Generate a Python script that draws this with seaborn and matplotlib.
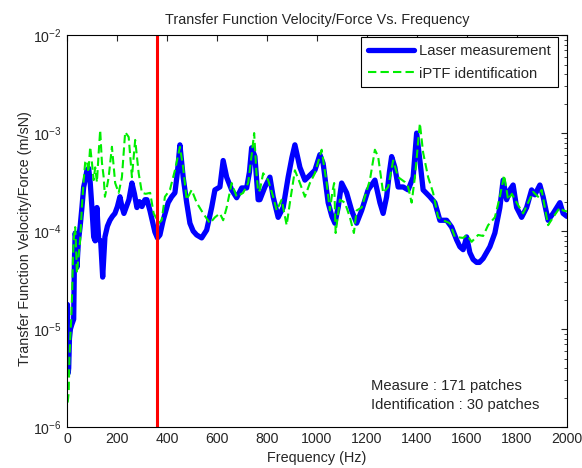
# Transfer function velocity/force - laser vs iPTF
import numpy as np
import pandas as pd
import matplotlib
matplotlib.use("Agg")
import matplotlib.pyplot as plt
import seaborn as sns

# Dados (frequencia em Hz, expoente log10 da FT em m/sN)
freq_laser = [2, 5, 7, 10, 14, 20, 27, 30, 33, 37, 40, 46, 53, 60, 67, 73, 80, 87, 93, 100,
              107, 113, 120, 127, 135, 143, 152, 162, 172, 182, 192, 202, 212, 220, 228, 238,
              248, 260, 270, 280, 290, 300, 312, 320, 332, 342, 352, 362, 372, 385, 395, 405,
              419, 432, 442, 452, 465, 479, 492, 505, 519, 539, 559, 579, 592, 612, 625, 639,
              659, 679, 699, 719, 730, 739, 752, 765, 772, 792, 812, 825, 845, 865, 885, 900,
              912, 932, 952, 972, 992, 1012, 1025, 1045, 1060, 1072, 1085, 1099, 1119, 1139,
              1159, 1179, 1205, 1232, 1252, 1265, 1279, 1290, 1299, 1312, 1325, 1345, 1365,
              1385, 1393, 1399, 1412, 1425, 1452, 1472, 1492, 1519, 1539, 1559, 1572, 1585,
              1599, 1612, 1625, 1639, 1650, 1665, 1692, 1712, 1732, 1745, 1759, 1772, 1785,
              1799, 1819, 1839, 1859, 1872, 1892, 1905, 1925, 1945, 1972, 1985, 2000]
exp_laser = [-4.75, -5.45, -5.4, -5.1, -5.0, -4.95, -4.9, -4.3, -4.02, -4.1, -4.37, -4.1, -3.95,
             -3.76, -3.55, -3.48, -3.38, -3.36, -3.5, -3.76, -4.06, -4.1, -3.76, -4.09, -4.1,
             -4.47, -4.06, -3.95, -3.89, -3.85, -3.82, -3.75, -3.65, -3.75, -3.82, -3.75, -3.68,
             -3.51, -3.62, -3.76, -3.7, -3.75, -3.68, -3.68, -3.79, -3.9, -4.01, -4.07, -4.04,
             -3.89, -3.8, -3.71, -3.65, -3.61, -3.4, -3.12, -3.45, -3.71, -3.92, -4.0, -4.04,
             -4.07, -3.99, -3.76, -3.58, -3.55, -3.28, -3.45, -3.58, -3.66, -3.56, -3.56, -3.4,
             -3.15, -3.24, -3.68, -3.68, -3.55, -3.45, -3.65, -3.86, -3.76, -3.45, -3.25, -3.12,
             -3.35, -3.48, -3.43, -3.38, -3.22, -3.31, -3.71, -3.85, -3.92, -3.76, -3.51, -3.61,
             -3.79, -3.92, -3.79, -3.58, -3.48, -3.71, -3.82, -3.65, -3.4, -3.24, -3.35, -3.55,
             -3.55, -3.58, -3.45, -3.2, -3.0, -3.28, -3.58, -3.65, -3.71, -3.89, -3.89, -3.96,
             -4.09, -4.16, -4.19, -4.06, -4.22, -4.29, -4.32, -4.32, -4.28, -4.16, -4.02, -3.76,
             -3.48, -3.68, -3.58, -3.53, -3.76, -3.86, -3.76, -3.58, -3.63, -3.53, -3.65, -3.89,
             -3.82, -3.71, -3.82, -3.85]

freq_iptf = [3, 7, 10, 13, 17, 20, 24, 27, 33, 37, 40, 47, 53, 60, 67, 73, 80, 86, 93, 100,
             107, 113, 120, 127, 133, 140, 147, 152, 160, 167, 180, 193, 207, 220, 233, 247,
             260, 273, 287, 300, 315, 333, 347, 360, 367, 379, 392, 412, 432, 452, 465, 479,
             499, 519, 545, 572, 592, 612, 625, 639, 659, 679, 705, 725, 740, 749, 758, 765,
             772, 785, 805, 825, 839, 859, 879, 892, 912, 932, 952, 972, 992, 1019, 1039, 1052,
             1062, 1069, 1075, 1092, 1112, 1132, 1148, 1159, 1179, 1212, 1232, 1245, 1265, 1285,
             1305, 1325, 1352, 1365, 1379, 1392, 1412, 1425, 1445, 1465, 1485, 1505, 1532, 1552,
             1585, 1600, 1619, 1645, 1665, 1685, 1712, 1732, 1749, 1765, 1780, 1799, 1825, 1845,
             1865, 1885, 1899, 1925, 1945, 1972, 1985, 2000]
exp_iptf = [-5.75, -5.65, -5.3, -5.11, -4.9, -4.7, -4.3, -4.09, -3.96, -4.2, -4.43, -4.25, -4.09,
            -3.75, -3.48, -3.3, -3.28, -3.4, -3.14, -3.3, -3.48, -3.35, -3.5, -3.2, -2.97, -3.3,
            -3.45, -3.65, -3.55, -3.45, -3.14, -3.51, -3.61, -3.45, -2.99, -3.04, -3.45, -3.07,
            -3.41, -3.61, -3.62, -3.61, -3.82, -3.88, -3.92, -3.89, -3.65, -3.58, -3.38, -3.14,
            -3.35, -3.68, -3.58, -3.71, -3.82, -3.92, -3.86, -3.82, -3.89, -3.76, -3.51, -3.65,
            -3.61, -3.51, -3.2, -3.0, -3.4, -3.6, -3.58, -3.41, -3.48, -3.65, -3.79, -3.68, -3.94,
            -3.71, -3.38, -3.51, -3.65, -3.51, -3.41, -3.17, -3.51, -3.79, -3.6, -3.51, -4.02,
            -3.68, -3.71, -3.86, -4.02, -3.79, -3.76, -3.48, -3.17, -3.24, -3.61, -3.55, -3.28,
            -3.45, -3.5, -3.55, -3.71, -3.45, -2.9, -3.2, -3.45, -3.61, -3.86, -3.89, -3.92,
            -4.06, -4.07, -4.04, -4.11, -4.04, -4.05, -3.94, -3.86, -3.65, -3.43, -3.68, -3.62,
            -3.71, -3.82, -3.71, -3.60, -3.65, -3.58, -3.94, -3.86, -3.76, -3.79, -3.8]

freq_limite = 360   # linha vermelha
texto_info = ["Measure : 171 patches", "Identification : 30 patches"]

# Tabelas
df_laser = pd.DataFrame({"freq": freq_laser, "ft": np.power(10.0, exp_laser)})
df_iptf = pd.DataFrame({"freq": freq_iptf, "ft": np.power(10.0, exp_iptf)})

sns.set_style("white")
plt.rcParams["font.family"] = ["Liberation Sans", "DejaVu Sans"]
plt.rcParams["mathtext.default"] = "regular"
plt.rcParams["font.size"] = 10

fig = plt.figure(figsize=(5.82, 4.68), dpi=100)
ax = fig.add_axes([0.115, 0.0876, 0.859, 0.8374])

sns.lineplot(data=df_laser, x="freq", y="ft", ax=ax, color="#0000ff", lw=3.8,
             label="Laser measurement", estimator=None, sort=False)
sns.lineplot(data=df_iptf, x="freq", y="ft", ax=ax, color="#00ee00", lw=1.5,
             label="iPTF identification", estimator=None, sort=False)
ax.lines[1].set_dashes([4, 2])
ax.axvline(freq_limite, color="red", lw=2.2)

ax.set_yscale("log")
ax.set_xlim(0, 2000)
ax.set_ylim(1e-6, 1e-2)
ax.set_xticks(np.arange(0, 2001, 200))
ax.tick_params(which="both", direction="in", top=True, right=True, labelsize=10.2)
ax.tick_params(which="major", length=4, width=0.8)
ax.tick_params(which="minor", length=2.2, width=0.6)
for s in ax.spines.values():
    s.set_color("black")
    s.set_linewidth(0.8)

ax.set_title("Transfer Function Velocity/Force Vs. Frequency", fontsize=10.4, pad=8)
ax.set_xlabel("Frequency (Hz)", fontsize=10.4, labelpad=4)
ax.set_ylabel("Transfer Function Velocity/Force (m/sN)", fontsize=10.4)
ax.yaxis.set_label_coords(-0.07, 0.482)

leg = ax.legend(loc="upper right", bbox_to_anchor=(0.982, 0.995), borderaxespad=0,
                fontsize=10.6, fancybox=False, framealpha=1, handlelength=3.1,
                borderpad=0.45, labelspacing=0.6, handletextpad=0.4)
leg.get_frame().set_edgecolor("black")
leg.get_frame().set_linewidth(0.8)

ax.text(0.608, 0.094, texto_info[0], transform=ax.transAxes, fontsize=10.6)
ax.text(0.608, 0.046, texto_info[1], transform=ax.transAxes, fontsize=10.6)

fig.savefig("out.png", dpi=100)
